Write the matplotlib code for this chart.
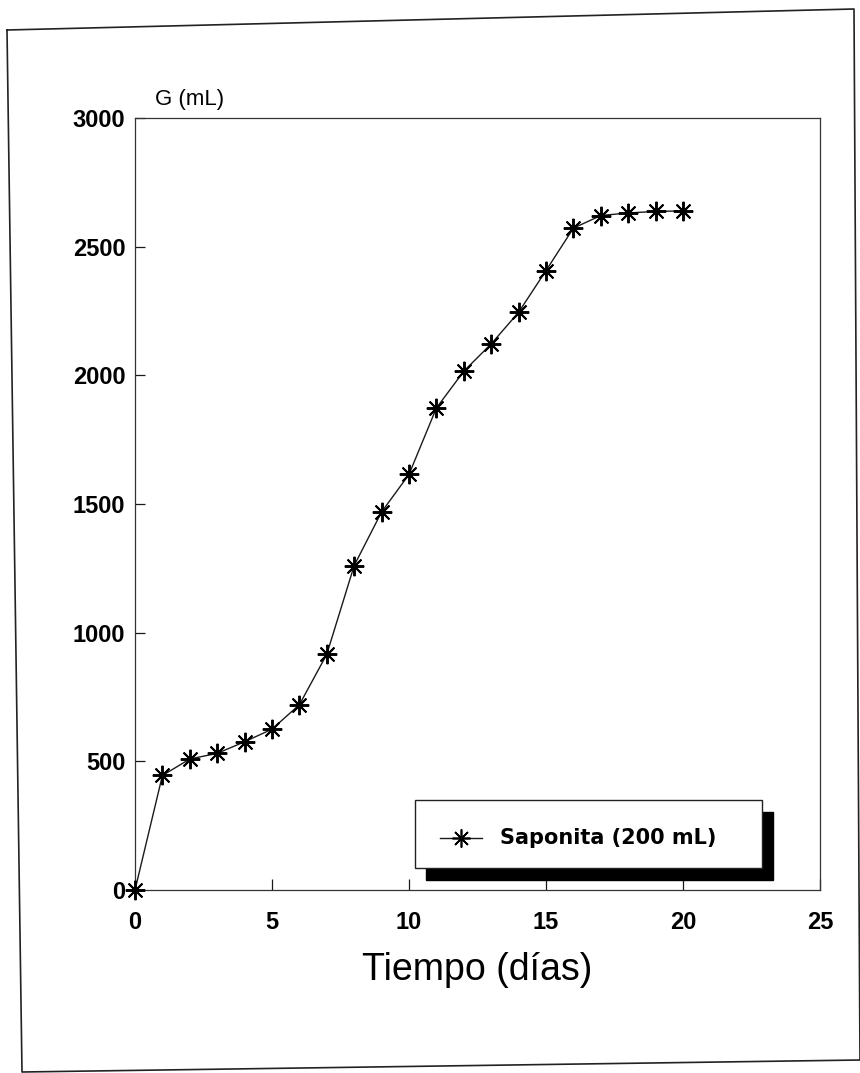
import numpy as np
import matplotlib
matplotlib.use("Agg")
import matplotlib.pyplot as plt
from matplotlib.lines import Line2D
from matplotlib.patches import Rectangle

# datos
dias = [0, 1, 2, 3, 4, 5, 6, 7, 8, 9, 10, 11, 12, 13, 14, 15, 16, 17, 18, 19, 20]
gas_ml = [0, 445, 509, 531, 576, 625, 720, 916, 1261, 1469, 1615, 1873,
          2016, 2122, 2245, 2407, 2572, 2621, 2631, 2637, 2639]

x_ticks = [0, 5, 10, 15, 20, 25]
y_ticks = [0, 500, 1000, 1500, 2000, 2500, 3000]
serie_label = "Saponita (200 mL)"

W, H = 860, 1073
fig = plt.figure(figsize=(W / 100, H / 100), dpi=100)
fig.patch.set_facecolor("white")

# ejes (pixeles -> fraccion de figura)
ax_l, ax_r, ax_t, ax_b = 135, 820, 118, 890
ax = fig.add_axes([ax_l / W, 1 - ax_b / H, (ax_r - ax_l) / W, (ax_b - ax_t) / H])

ink = "#1a1a1a"
ax.plot(dias, gas_ml, color=ink, lw=1.0, marker=(8, 2, 0), markersize=14,
        markeredgewidth=1.4, markeredgecolor="black", clip_on=False, zorder=3)

ax.set_xlim(0, 25)
ax.set_ylim(0, 3000)
ax.set_xticks(x_ticks)
ax.set_yticks(y_ticks)
ax.set_xticklabels([str(v) for v in x_ticks])
ax.set_yticklabels([str(v) for v in y_ticks])

for s in ax.spines.values():
    s.set_linewidth(0.9)
    s.set_color("#333333")

ax.tick_params(axis="x", direction="in", length=8, width=0.9, pad=15, colors=ink)
ax.tick_params(axis="y", direction="in", length=7, width=0.9, pad=7, colors=ink)
fp = matplotlib.font_manager.FontProperties(family="Liberation Sans", weight="bold", size=17)
for lab in ax.get_xticklabels() + ax.get_yticklabels():
    lab.set_fontproperties(fp)
    lab.set_color("black")

# titulos de ejes
fig.text(155 / W, 1 - 100 / H, "G (mL)", family="Liberation Sans", size=16,
         ha="left", va="center", color="black")
fig.text((ax_l + ax_r) / 2 / W, 1 - 970 / H, "Tiempo (días)", family="Liberation Sans",
         size=27, ha="center", va="center", color="black")

# leyenda con sombra negra
def ax_frac(px, py):
    return (px - ax_l) / (ax_r - ax_l), (ax_b - py) / (ax_b - ax_t)

x0, y0 = ax_frac(415, 868)
x1, y1 = ax_frac(762, 800)
sx, sy = ax_frac(426, 880)
ax.add_patch(Rectangle((sx, sy), x1 - x0, y1 - y0, transform=ax.transAxes,
                       facecolor="black", edgecolor="black", zorder=4, clip_on=False))
ax.add_patch(Rectangle((x0, y0), x1 - x0, y1 - y0, transform=ax.transAxes,
                       facecolor="white", edgecolor="#222222", lw=1.0, zorder=5))
hx0, hy = ax_frac(440, 838)
hx1, _ = ax_frac(482, 838)
hm, _ = ax_frac(461, 838)
ax.add_line(Line2D([hx0, hx1], [hy, hy], transform=ax.transAxes, color=ink, lw=1.0, zorder=6))
ax.add_line(Line2D([hm], [hy], transform=ax.transAxes, marker=(8, 2, 0), markersize=13,
                   markeredgewidth=1.2, markeredgecolor="black", zorder=6))
tx, _ = ax_frac(500, 838)
ax.text(tx, hy, serie_label, transform=ax.transAxes, family="DejaVu Sans", weight="bold",
        size=15, ha="left", va="center", color="black", zorder=6)

# marco exterior de la pagina
bx = [7, 854, 860, 22, 7]
by = [30, 9, 1060, 1072, 30]
fig.add_artist(Line2D([v / W for v in bx], [1 - v / H for v in by], transform=fig.transFigure,
                      color="#222222", lw=1.2))

fig.savefig("out.png", dpi=100)
